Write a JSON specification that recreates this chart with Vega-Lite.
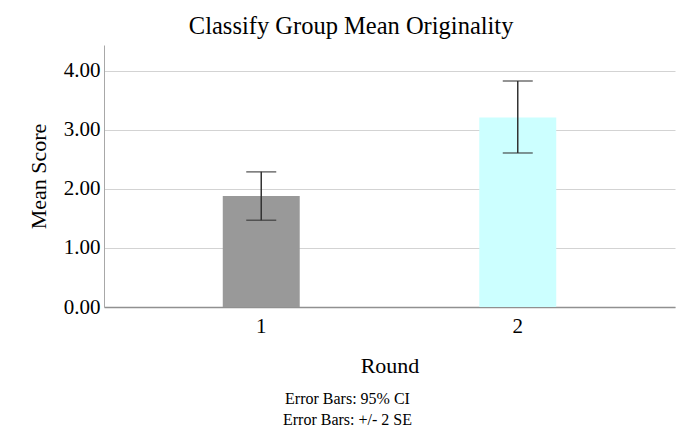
{
  "$schema": "https://vega.github.io/schema/vega-lite/v6.json",
  "width": 571,
  "height": 262,
  "autosize": {"type": "none"},
  "padding": {"left": 104, "top": 45, "right": 16, "bottom": 125},
  "background": "white",
  "title": {
    "text": "Classify Group Mean Originality",
    "anchor": "middle",
    "frame": "bounds",
    "font": "Liberation Serif",
    "fontSize": 24.5,
    "fontWeight": "normal",
    "color": "black",
    "offset": 6
  },
  "data": {
    "values": [
      {"Round": "1", "mean": 1.88, "lo": 1.47, "hi": 2.29},
      {"Round": "2", "mean": 3.21, "lo": 2.61, "hi": 3.83}
    ]
  },
  "config": {
    "view": {"stroke": null},
    "font": "Liberation Serif",
    "axis": {"labelFont": "Liberation Serif", "titleFont": "Liberation Serif", "labelColor": "black", "titleColor": "black", "titleFontWeight": "normal"}
  },
  "resolve": {"axis": {"x": "independent"}},
  "layer": [
    {
      "mark": {"type": "bar"},
      "encoding": {
        "x": {
          "field": "Round",
          "type": "nominal",
          "scale": {"paddingInner": 0.7, "paddingOuter": 0.463},
          "axis": {
            "title": "Round",
            "labelAngle": 0,
            "ticks": false,
            "domainColor": "#909090",
            "domainWidth": 1.5,
            "labelFontSize": 21,
            "labelPadding": 8,
            "titleFontSize": 22,
            "titlePadding": 19
          }
        },
        "y": {
          "field": "mean",
          "type": "quantitative",
          "title": "Mean Score",
          "scale": {"domain": [0, 4.44], "nice": false},
          "axis": {
            "values": [0, 1, 2, 3, 4],
            "format": ".2f",
            "ticks": false,
            "grid": true,
            "gridColor": "#d3d3d3",
            "domainColor": "#a8a8a8",
            "labelFontSize": 21,
            "labelPadding": 4,
            "titleFontSize": 22,
            "titlePadding": 13
          }
        },
        "color": {
          "field": "Round",
          "type": "nominal",
          "scale": {"range": ["#999999", "#ccffff"]},
          "legend": null
        }
      }
    },
    {
      "mark": {"type": "rule", "color": "#333333", "strokeWidth": 1.5},
      "encoding": {
        "x": {
          "field": "Round",
          "type": "nominal",
          "axis": {
            "orient": "bottom",
            "labels": false,
            "ticks": false,
            "domain": false,
            "grid": false,
            "title": ["Error Bars: 95% CI", "Error Bars: +/- 2 SE"],
            "titleFontSize": 16,
            "titleLineHeight": 21,
            "titleX": 243,
            "titlePadding": 83
          }
        },
        "y": {"field": "lo", "type": "quantitative", "title": "Mean Score"},
        "y2": {"field": "hi"}
      }
    },
    {
      "mark": {"type": "tick", "color": "#333333", "size": 30, "thickness": 1.5},
      "encoding": {
        "x": {"field": "Round", "type": "nominal", "axis": null},
        "y": {"field": "lo", "type": "quantitative", "title": "Mean Score"}
      }
    },
    {
      "mark": {"type": "tick", "color": "#333333", "size": 30, "thickness": 1.5},
      "encoding": {
        "x": {"field": "Round", "type": "nominal", "axis": null},
        "y": {"field": "hi", "type": "quantitative", "title": "Mean Score"}
      }
    }
  ]
}
